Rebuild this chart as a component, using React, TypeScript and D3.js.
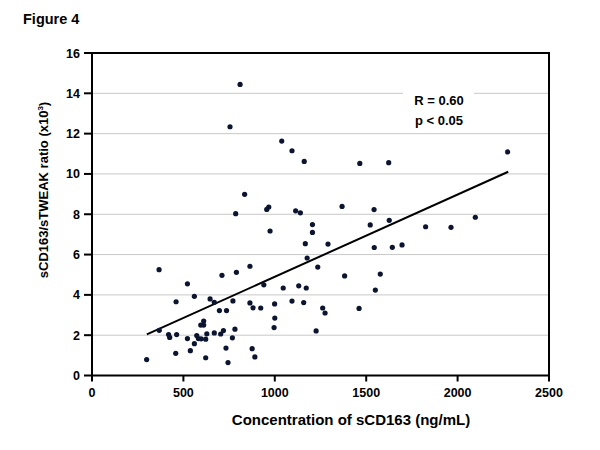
import React from "react";
import * as d3 from "d3";

const xValues = [299, 367, 368, 419, 425, 460, 463, 458, 522, 522, 538, 560, 560, 573, 582, 595, 611, 611, 597, 622, 622, 628, 646, 669, 669, 697, 704, 711, 719, 733, 736, 744, 768, 771, 782, 790, 755, 810, 835, 786, 864, 864, 881, 876, 891, 923, 940, 956, 967, 974, 999, 1000, 996, 1038, 1046, 1094, 1094, 1114, 1140, 1131, 1158, 1161, 1167, 1172, 1177, 1206, 1206, 1226, 1235, 1262, 1275, 1291, 1368, 1382, 1465, 1461, 1522, 1543, 1544, 1550, 1577, 1623, 1626, 1643, 1696, 1825, 1964, 2097, 2274];
const yValues = [0.79, 5.25, 2.24, 2.03, 1.89, 3.66, 2.03, 1.10, 4.55, 1.83, 1.23, 3.93, 1.58, 1.98, 1.83, 2.50, 2.50, 2.70, 1.82, 1.80, 0.88, 2.07, 3.80, 3.63, 2.11, 3.22, 2.06, 4.97, 2.23, 1.36, 3.22, 0.64, 1.87, 3.70, 2.30, 5.12, 12.34, 14.44, 8.99, 8.03, 5.42, 3.60, 3.36, 1.33, 0.92, 3.35, 4.50, 8.24, 8.36, 7.17, 3.55, 2.85, 2.38, 11.63, 4.34, 11.15, 3.69, 8.17, 8.07, 4.45, 3.62, 10.62, 6.54, 4.34, 5.83, 7.49, 7.10, 2.21, 5.38, 3.35, 3.10, 6.52, 8.39, 4.94, 10.52, 3.33, 7.47, 8.23, 6.35, 4.24, 5.03, 10.56, 7.70, 6.36, 6.48, 7.38, 7.35, 7.85, 11.09];

const fitX = [300, 2277];
const fitY = [2.04, 10.11];

const xTicks = [0, 500, 1000, 1500, 2000, 2500];
const yTicks = [0, 2, 4, 6, 8, 10, 12, 14, 16];

const statLines = ["R = 0.60", "p < 0.05"];

export default function App() {
  const left = 92, right = 549, top = 53, bottom = 375.5;
  const x = d3.scaleLinear().domain([0, 2500]).range([left, right]);
  const y = d3.scaleLinear().domain([0, 16]).range([bottom, top]);
  const font = "'Liberation Sans', Arial, sans-serif";
  const line = d3.line<number>().x((d) => x(fitX[d])).y((d) => y(fitY[d]));

  return (
    <svg width={600} height={450} style={{ position: "absolute", left: 0, top: 0, background: "#fff" }} fontFamily={font}>
      <rect x={0} y={0} width={600} height={450} fill="#fff" />
      <text x={23} y={24} fontSize={14.5} fontWeight="bold" fill="#000">Figure 4</text>
      {yTicks.filter((t) => t > 0 && t < 16).map((t) => (
        <line key={"g" + t} x1={left} x2={right} y1={y(t)} y2={y(t)} stroke="#c8c8c8" strokeWidth={1} />
      ))}
      <rect x={403} y={86} width={71} height={42} fill="#fff" />
      {statLines.map((s, i) => (
        <text key={s} x={439} y={104.5 + i * 20} fontSize={13} fontWeight="bold" textAnchor="middle" fill="#000">{s}</text>
      ))}
      <rect x={left} y={top} width={right - left} height={bottom - top} fill="none" stroke="#000" strokeWidth={2} />
      {yTicks.map((t) => (
        <g key={"y" + t}>
          <line x1={left - 8} x2={left} y1={y(t)} y2={y(t)} stroke="#000" strokeWidth={2} />
          <text x={80} y={y(t) + 4.5} fontSize={12.5} fontWeight="bold" textAnchor="end" fill="#000">{t}</text>
        </g>
      ))}
      {xTicks.map((t) => (
        <g key={"x" + t}>
          <line x1={x(t)} x2={x(t)} y1={bottom} y2={bottom + 6} stroke="#000" strokeWidth={2} />
          <text x={x(t)} y={397} fontSize={12.5} fontWeight="bold" textAnchor="middle" fill="#000">{t}</text>
        </g>
      ))}
      <path d={line([0, 1]) || ""} stroke="#000" strokeWidth={2} fill="none" />
      {xValues.map((v, i) => (
        <circle key={"p" + i} cx={x(v)} cy={y(yValues[i])} r={2.6} fill="#0b1530" />
      ))}
      <text x={351} y={425} fontSize={15} fontWeight="bold" textAnchor="middle" fill="#000">Concentration of sCD163 (ng/mL)</text>
      <text transform={`translate(48,190) rotate(-90)`} fontSize={13} fontWeight="bold" textAnchor="middle" fill="#000">
        sCD163/sTWEAK ratio (x10<tspan fontSize={8} dy={-5}>3</tspan><tspan dy={5}>)</tspan>
      </text>
    </svg>
  );
}
